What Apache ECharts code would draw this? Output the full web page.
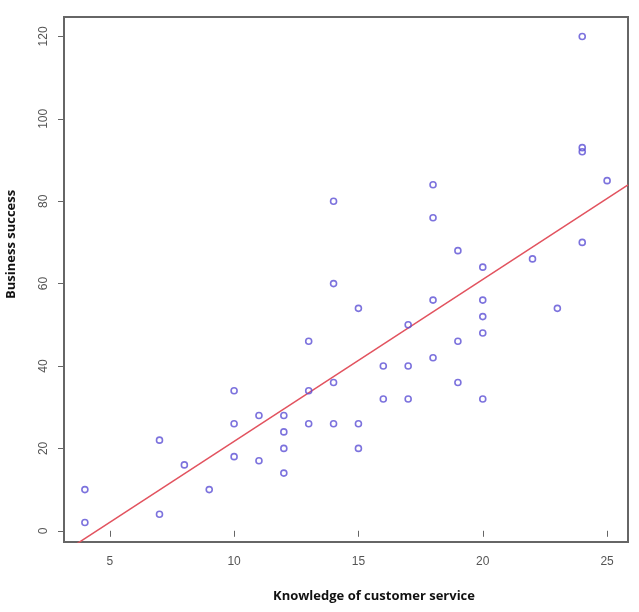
<!DOCTYPE html>
<html>
<head>
<meta charset="utf-8">
<script src="https://cdn.jsdelivr.net/npm/echarts@6/dist/echarts.min.js"></script>
<style>
  html, body { margin: 0; padding: 0; background: #fff; }
  #chart { width: 639px; height: 612px; }
</style>
</head>
<body>
<div id="chart"></div>
<script>
// knowledge of customer service (x) vs business success (y)
var knowledge = [4, 4, 7, 7, 8, 9, 10, 10, 10, 11, 11, 12, 12, 12, 12, 13, 13, 13,
  14, 14, 14, 14, 15, 15, 15, 16, 16, 17, 17, 17, 18, 18, 18, 18, 19, 19, 19,
  20, 20, 20, 20, 20, 22, 23, 24, 24, 24, 24, 25];
var success = [10, 2, 22, 4, 16, 10, 34, 26, 18, 28, 17, 28, 24, 20, 14, 46, 34, 26,
  80, 60, 36, 26, 54, 26, 20, 40, 32, 50, 40, 32, 84, 76, 56, 42, 68, 46, 36,
  64, 56, 52, 48, 32, 66, 54, 120, 93, 92, 70, 85];

var xTicks = [5, 10, 15, 20, 25];
var yTicks = [0, 20, 40, 60, 80, 100, 120];

// fitted line
var fitIntercept = -17.6;
var fitSlope = 3.93;

// R style range: data range + 4% each side
var xMin = 3.16, xMax = 25.84;
var yMin = -2.72, yMax = 124.72;

var points = [];
for (var i = 0; i < knowledge.length; i++) {
  points.push([knowledge[i], success[i]]);
}
var fitLine = [
  [xMin, fitIntercept + fitSlope * xMin],
  [xMax, fitIntercept + fitSlope * xMax]
];

var chart = echarts.init(document.getElementById('chart'), null, { renderer: 'canvas' });

var tickColor = '#666';
var labelStyle = { color: '#555', fontSize: 12, fontFamily: 'Liberation Sans, Arial, sans-serif' };

chart.setOption({
  backgroundColor: '#fff',
  animation: false,
  grid: {
    left: 64, top: 17, right: 11, bottom: 70,
    show: true,
    borderColor: '#666',
    borderWidth: 2,
    backgroundColor: '#fff'
  },
  xAxis: {
    type: 'value',
    min: xMin, max: xMax,
    axisLine: { show: false },
    splitLine: { show: false },
    axisTick: { show: true, customValues: xTicks, length: 6, lineStyle: { color: tickColor, width: 1 } },
    axisLabel: Object.assign({ customValues: xTicks, margin: 14 }, labelStyle)
  },
  yAxis: {
    type: 'value',
    min: yMin, max: yMax,
    axisLine: { show: false },
    splitLine: { show: false },
    axisTick: { show: true, customValues: yTicks, length: 6, lineStyle: { color: tickColor, width: 1 } },
    axisLabel: Object.assign({ customValues: yTicks, margin: 14, rotate: 90 }, labelStyle)
  },
  graphic: [
    {
      type: 'text',
      left: 273, top: 590,
      style: { text: 'Knowledge of customer service', fill: '#111', font: 'bold 13px "Open Sans", sans-serif' }
    },
    {
      type: 'text',
      x: 5, y: 299,
      rotation: Math.PI / 2,
      style: { text: 'Business success', fill: '#111', font: 'bold 13px "Open Sans", sans-serif' }
    }
  ],
  series: [
    {
      type: 'line',
      data: fitLine,
      symbol: 'none',
      clip: true,
      lineStyle: { color: '#e2535f', width: 1.5 },
      z: 2
    },
    {
      type: 'scatter',
      data: points,
      symbol: 'circle',
      symbolSize: 6,
      itemStyle: { color: 'rgba(255,255,255,0)', borderColor: '#5b4fd4', borderWidth: 1.6 },
      z: 3
    }
  ]
});
</script>
</body>
</html>
